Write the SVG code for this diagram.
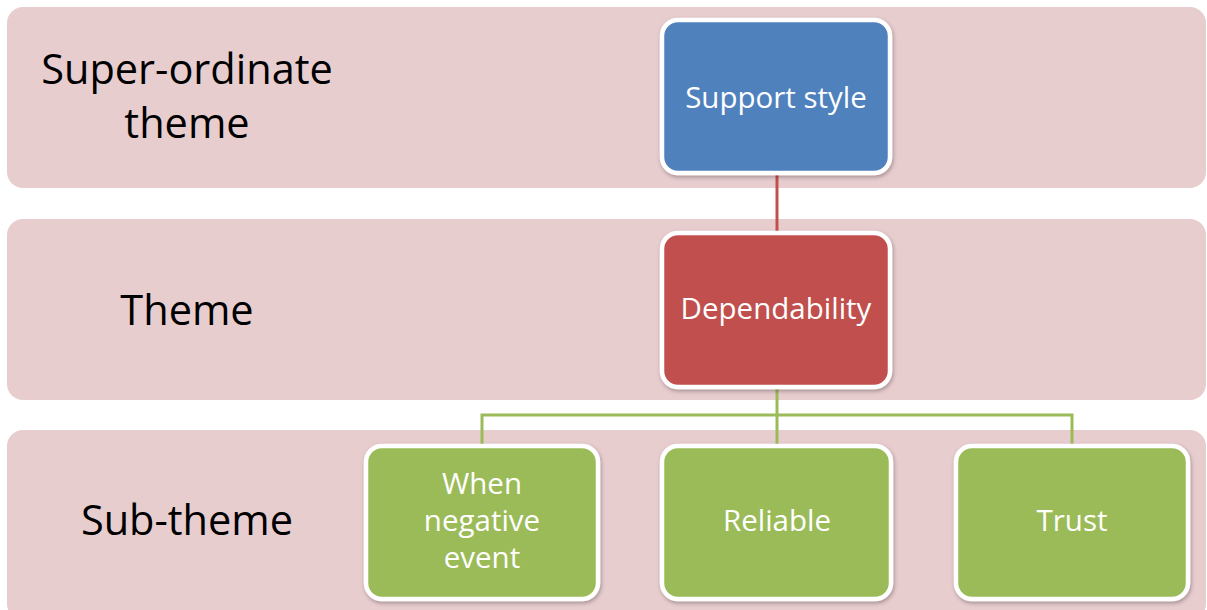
<svg xmlns="http://www.w3.org/2000/svg" width="1207" height="610" viewBox="0 0 1207 610">
  <style>
    .band { fill: #E8CDCF; }
    .label { font-family: "Open Sans", "Noto Sans", sans-serif; font-size: 41.5px; fill: #000; text-anchor: middle; }
    .box { stroke: #fff; stroke-width: 4.5; }
    .boxtext { font-family: "Open Sans", "Noto Sans", sans-serif; font-size: 29.5px; fill: #fff; text-anchor: middle; }
    .blue { fill: #4F81BD; }
    .red { fill: #C0504D; }
    .green { fill: #9BBB59; }
    .conn-red { stroke: #C0504D; stroke-width: 3; fill: none; }
    .conn-green { stroke: #9BBB59; stroke-width: 3; fill: none; }
  </style>
  <defs>
    <filter id="shadow" x="-10%" y="-10%" width="125%" height="125%">
      <feDropShadow dx="1" dy="2" stdDeviation="2" flood-color="#000" flood-opacity="0.3"/>
    </filter>
  </defs>
  <rect width="1207" height="610" fill="#fff"/>

  <!-- level bands -->
  <g id="band-superordinate">
    <rect class="band" x="7" y="7" width="1199" height="181" rx="16"/>
    <text class="label" x="187" y="84">Super-ordinate</text>
    <text class="label" x="187" y="138">theme</text>
  </g>
  <g id="band-theme">
    <rect class="band" x="7" y="219" width="1199" height="181" rx="16"/>
    <text class="label" x="187" y="325">Theme</text>
  </g>
  <g id="band-subtheme">
    <rect class="band" x="7" y="430" width="1199" height="190" rx="16"/>
    <text class="label" x="187" y="535">Sub-theme</text>
  </g>

  <!-- connectors -->
  <g id="connectors">
    <line class="conn-red" x1="777" y1="173" x2="777" y2="232"/>
    <line class="conn-green" x1="777" y1="387" x2="777" y2="445"/>
    <polyline class="conn-green" points="482,445 482,415 1072,415 1072,445"/>
  </g>

  <!-- nodes -->
  <g id="node-support-style">
    <rect class="box blue" x="662" y="20" width="228" height="153" rx="16" filter="url(#shadow)"/>
    <text class="boxtext" x="776" y="108">Support style</text>
  </g>
  <g id="node-dependability">
    <rect class="box red" x="662" y="233" width="228" height="154" rx="16" filter="url(#shadow)"/>
    <text class="boxtext" x="776" y="319">Dependability</text>
  </g>
  <g id="node-when-negative-event">
    <rect class="box green" x="366" y="446" width="232" height="153" rx="16" filter="url(#shadow)"/>
    <text class="boxtext" x="482" y="494">When</text>
    <text class="boxtext" x="482" y="531">negative</text>
    <text class="boxtext" x="482" y="568">event</text>
  </g>
  <g id="node-reliable">
    <rect class="box green" x="662" y="446" width="229" height="153" rx="16" filter="url(#shadow)"/>
    <text class="boxtext" x="777" y="531">Reliable</text>
  </g>
  <g id="node-trust">
    <rect class="box green" x="956" y="446" width="232" height="153" rx="16" filter="url(#shadow)"/>
    <text class="boxtext" x="1072" y="531">Trust</text>
  </g>
</svg>
